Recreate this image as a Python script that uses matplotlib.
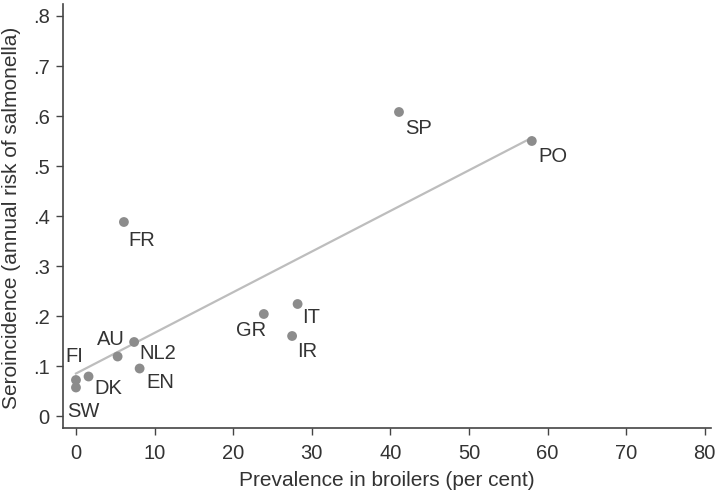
import matplotlib
matplotlib.use("Agg")
import matplotlib.pyplot as plt
import numpy as np

plt.rcParams['font.family'] = ['Liberation Sans', 'DejaVu Sans']

countries = ["SP", "PO", "FR", "GR", "IT", "IR", "NL2", "AU", "EN", "FI", "DK", "SW"]
prevalence = [41.1, 58.0, 6.1, 23.9, 28.2, 27.5, 7.4, 5.3, 8.1, 0.0, 1.6, 0.0]
seroincidence = [0.608, 0.550, 0.388, 0.204, 0.224, 0.160, 0.148, 0.119, 0.095, 0.072, 0.079, 0.057]
# label offsets in points (clock positions)
label_offsets = {
    "SP": (14, -12), "PO": (15, -11), "FR": (13, -13), "GR": (-9, -12),
    "IT": (10, -10), "IR": (11, -11), "NL2": (17, -8), "AU": (-5, 12),
    "EN": (15, -10), "FI": (-1, 17), "DK": (14, -9), "SW": (5, -17),
}
xticks = [0, 10, 20, 30, 40, 50, 60, 70, 80]
yticks = [0, 0.1, 0.2, 0.3, 0.4, 0.5, 0.6, 0.7, 0.8]
ytick_labels = ["0", ".1", ".2", ".3", ".4", ".5", ".6", ".7", ".8"]

fig = plt.figure(figsize=(7.2, 4.99), dpi=100)
ax = fig.add_axes([63/720, 71/499, (711-63)/720, (495-71)/499])

x = np.array(prevalence)
y = np.array(seroincidence)
slope, intercept = np.polyfit(x, y, 1)
xl = np.array([x.min(), x.max()])
ax.plot(xl, intercept + slope * xl, color="#bdbdbd", lw=1.6, zorder=1)
ax.scatter(x, y, s=50, color="#8c8c8c", edgecolors="none", zorder=2)

for c, xi, yi in zip(countries, prevalence, seroincidence):
    dx, dy = label_offsets[c]
    ax.annotate(c, (xi, yi), xytext=(dx, dy), textcoords="offset points",
                ha="center", va="center", fontsize=14.5, color="#333333")

ax.set_xlim(-1.65, 80.8)
ax.set_ylim(-0.024, 0.824)
ax.set_xticks(xticks)
ax.set_yticks(yticks)
ax.set_yticklabels(ytick_labels)
ax.tick_params(direction="out", length=5, width=1, color="#444444",
               labelsize=14.5, labelcolor="#333333")
ax.tick_params(axis="x", pad=6.5)
ax.tick_params(axis="y", pad=4.5)
for s in ["top", "right"]:
    ax.spines[s].set_visible(False)
for s in ["left", "bottom"]:
    ax.spines[s].set_color("#444444")
    ax.spines[s].set_linewidth(1.2)

ax.set_xlabel("Prevalence in broilers (per cent)", fontsize=15, color="#333333")
ax.set_ylabel("Seroincidence (annual risk of salmonella)", fontsize=15, color="#333333")
ax.xaxis.label.set_va("center")
ax.yaxis.label.set_va("center")
ax.xaxis.set_label_coords(0.5, (428 - 481) / 424)
ax.yaxis.set_label_coords((12 - 63) / 648, (428 - 218) / 424)

fig.savefig("out.png", dpi=100)
